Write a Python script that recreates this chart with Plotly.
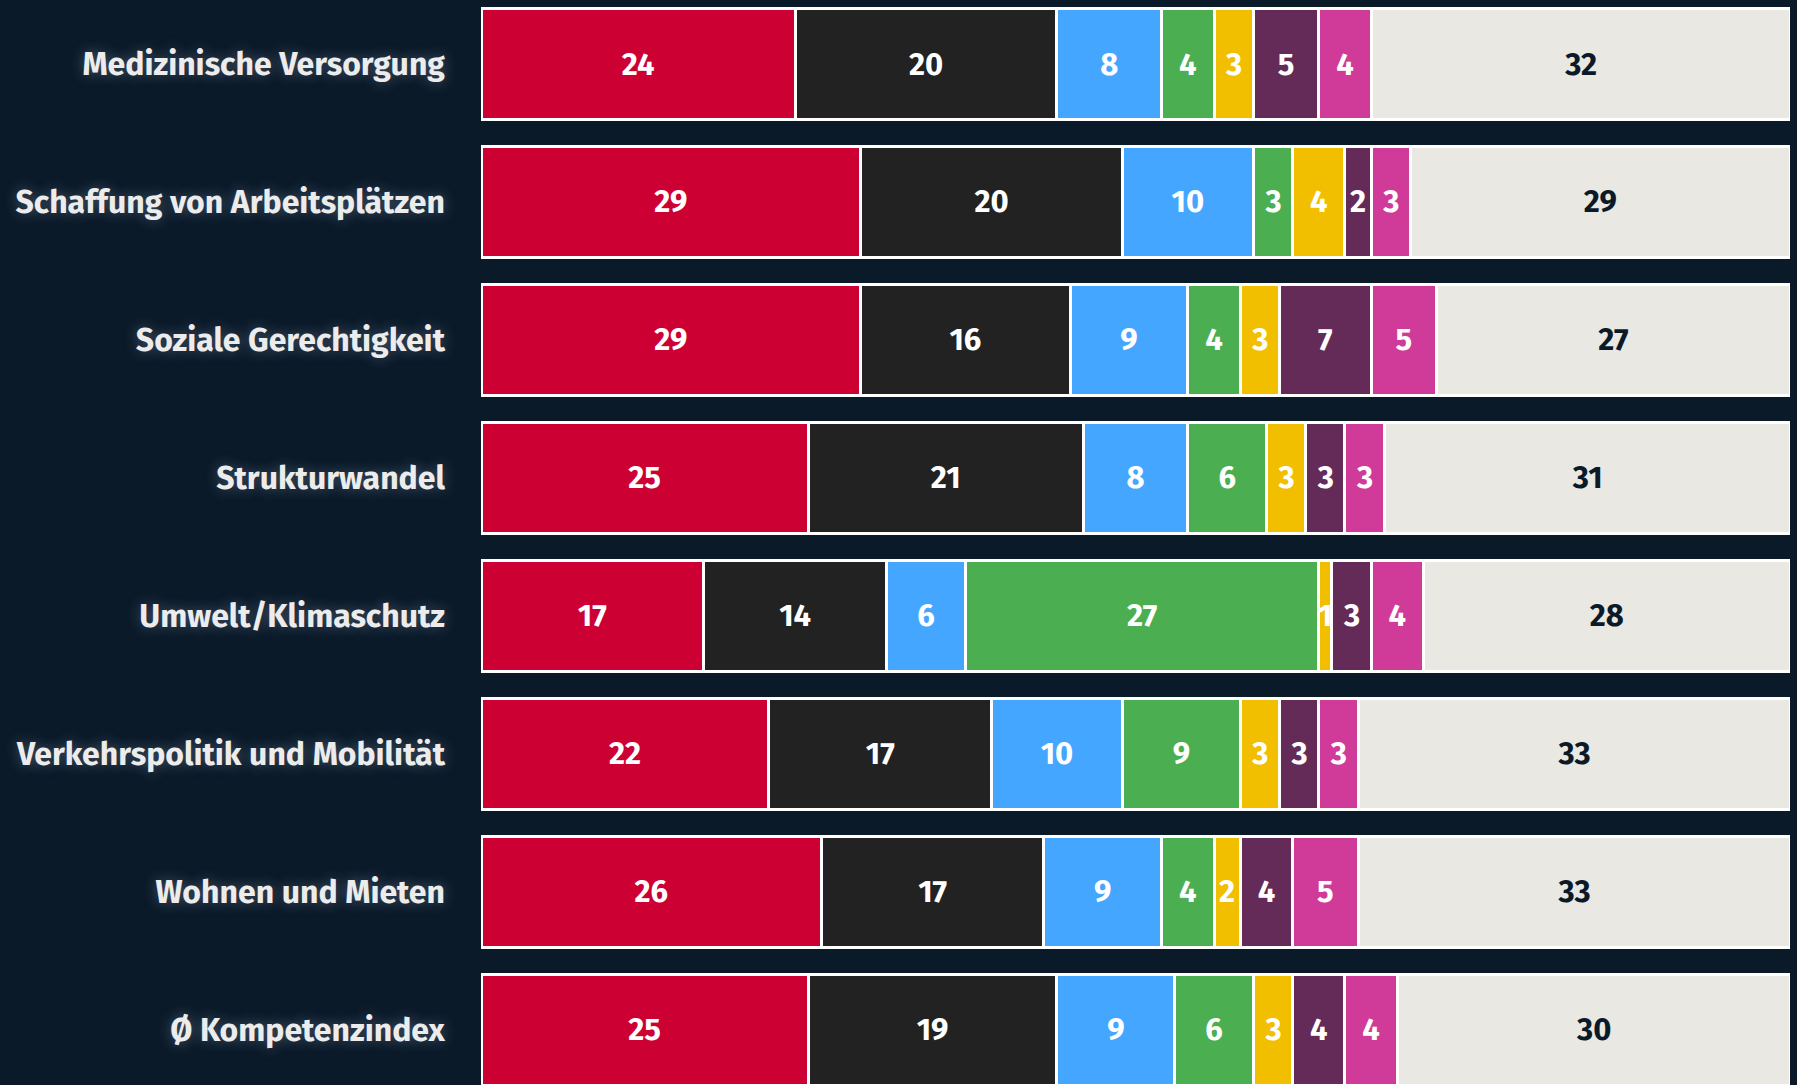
import plotly.graph_objects as go

background_color = "#0b1a29"
font_family = "Fira Sans, Lato, Noto Sans, sans-serif"

categories = [
    "Medizinische Versorgung",
    "Schaffung von Arbeitsplätzen",
    "Soziale Gerechtigkeit",
    "Strukturwandel",
    "Umwelt/Klimaschutz",
    "Verkehrspolitik und Mobilität",
    "Wohnen und Mieten",
    "Ø Kompetenzindex",
]

# one list per segment, same order as categories
spd = [24, 29, 29, 25, 17, 22, 26, 25]
cdu = [20, 20, 16, 21, 14, 17, 17, 19]
afd = [8, 10, 9, 8, 6, 10, 9, 9]
gruene = [4, 3, 4, 6, 27, 9, 4, 6]
fdp = [3, 4, 3, 3, 1, 3, 2, 3]
linke = [5, 2, 7, 3, 3, 3, 4, 4]
bsw = [4, 3, 5, 3, 4, 3, 5, 4]
keine = [32, 29, 27, 31, 28, 33, 33, 30]

series = [
    ("SPD", spd, "#cc0033", "white"),
    ("CDU", cdu, "#222222", "white"),
    ("AfD", afd, "#45a6ff", "white"),
    ("Grüne", gruene, "#4bae50", "white"),
    ("FDP", fdp, "#f2bf00", "white"),
    ("Linke", linke, "#642a58", "white"),
    ("BSW", bsw, "#d03a98", "white"),
    ("Keine", keine, "#eae8e3", "#0b1a29"),
]

fig = go.Figure()
for name, values, color, text_color in series:
    fig.add_trace(go.Bar(
        y=categories, x=values, name=name, orientation="h",
        marker=dict(color=color, line=dict(color="white", width=3)),
        text=[str(v) for v in values],
        textposition="inside", insidetextanchor="middle", constraintext="none",
        textfont=dict(family=font_family, size=31, color=text_color, weight="bold"),
        hoverinfo="skip",
    ))

fig.update_layout(
    barmode="stack", bargap=0.2, showlegend=False,
    width=1797, height=1085,
    margin=dict(l=481, r=7, t=0, b=0),
    plot_bgcolor=background_color, paper_bgcolor=background_color,
    uniformtext=dict(minsize=31, mode="show"),
)

fig.update_xaxes(range=[0, 100], visible=False, fixedrange=True)
fig.update_yaxes(
    categoryorder="array", categoryarray=categories,
    range=[7.4, -0.464], showgrid=False, zeroline=False, showline=False,
    ticks="", ticklabelstandoff=35,
    tickfont=dict(family=font_family, size=32, color="#ececec", weight="bold",
                  shadow="0px 0px 14px rgba(150,170,195,0.45)"),
)

# page without the default body margin
fig.write_html(
    "out.html", config={"displayModeBar": False},
    post_script="document.body.style.margin='0';document.body.style.background='%s';" % background_color,
)
